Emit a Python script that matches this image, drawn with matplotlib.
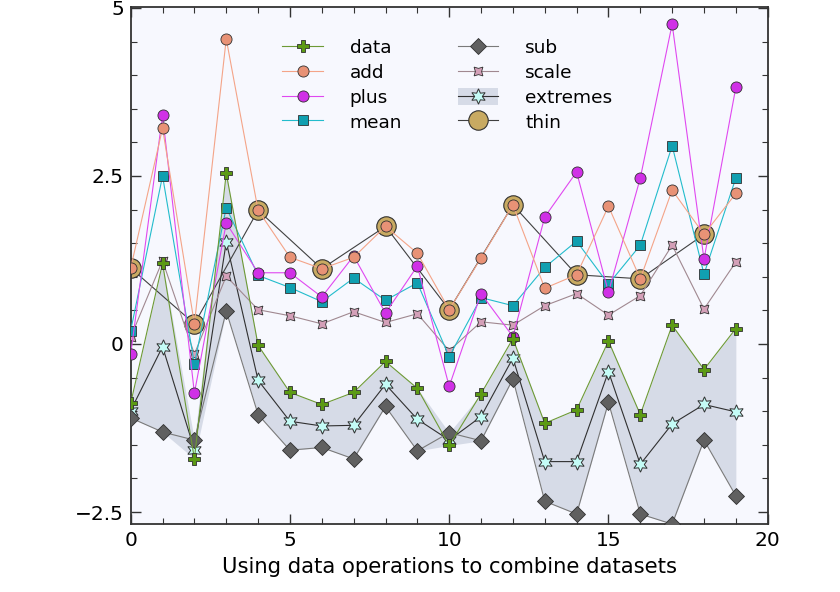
import numpy as np
import matplotlib
matplotlib.use("Agg")
import matplotlib.pyplot as plt
from matplotlib.ticker import MultipleLocator, FuncFormatter

x = list(range(20))
data = [-0.88, 1.20, -1.71, 2.54, -0.02, -0.72, -0.90, -0.72, -0.26, -0.66,
        -1.51, -0.74, 0.08, -1.18, -0.98, 0.045, -1.05, 0.28, -0.38, 0.23]
add = [1.13, 3.21, 0.30, 4.54, 1.99, 1.29, 1.12, 1.29, 1.75, 1.35,
       0.51, 1.28, 2.07, 0.83, 1.03, 2.05, 0.97, 2.29, 1.63, 2.24]
plus = [-0.15, 3.40, -0.73, 1.80, 1.06, 1.06, 0.70, 1.31, 0.46, 1.16,
        -0.63, 0.75, 0.11, 1.89, 2.56, 0.77, 2.47, 4.76, 1.26, 3.82]
mean = [0.20, 2.50, -0.30, 2.03, 1.02, 0.84, 0.63, 0.98, 0.65, 0.91,
        -0.19, 0.69, 0.57, 1.14, 1.53, 0.89, 1.47, 2.95, 1.04, 2.47]
sub = [-1.10, -1.31, -1.43, 0.49, -1.05, -1.58, -1.54, -1.71, -0.93, -1.59,
       -1.32, -1.44, -0.52, -2.34, -2.53, -0.87, -2.53, -2.68, -1.43, -2.26]
scale = [0.10, 1.24, -0.15, 1.01, 0.51, 0.42, 0.30, 0.48, 0.32, 0.45,
         -0.10, 0.33, 0.28, 0.57, 0.75, 0.43, 0.72, 1.47, 0.52, 1.22]
extremes = [-0.99, -0.04, -1.57, 1.52, -0.54, -1.15, -1.22, -1.21, -0.60, -1.12,
            -1.43, -1.08, -0.21, -1.75, -1.75, -0.41, -1.79, -1.19, -0.90, -1.01]
extremes_lo = [-1.10, -1.31, -1.71, 0.49, -1.05, -1.58, -1.54, -1.71, -0.93, -1.59,
               -1.51, -1.44, -0.52, -2.34, -2.53, -0.87, -2.53, -2.68, -1.43, -2.26]
extremes_hi = [-0.88, 1.20, -1.43, 2.54, -0.02, -0.72, -0.90, -0.72, -0.26, -0.66,
               -1.32, -0.74, 0.08, -1.18, -0.98, 0.045, -1.05, 0.28, -0.38, 0.23]
thin_x = [0, 2, 4, 6, 8, 10, 12, 14, 16, 18]
thin = [1.13, 0.30, 1.99, 1.12, 1.75, 0.51, 2.07, 1.03, 0.97, 1.63]

plt.rcParams['font.family'] = ['DejaVu Sans']
fig = plt.figure(figsize=(8.4, 5.92), dpi=100, facecolor='white')
ax = fig.add_axes([130.7 / 840, 1 - 523.7 / 592, (767.7 - 130.7) / 840, (523.7 - 7.3) / 592])
ax.set_facecolor('#f7f8fe')

edge = '#303030'
lw = 0.8

# draw in reverse order (later legend entries beneath)
l_thin, = ax.plot(thin_x, thin, '-', color='#404040', lw=lw, marker='o', ms=14,
                  mfc='#c8aa62', mec=edge, mew=0.8, zorder=2)
band = ax.fill_between(x, extremes_lo, extremes_hi, color='#d6dbe7', lw=0, zorder=1)
l_ext, = ax.plot(x, extremes, '-', color='#303030', lw=lw, marker=(6, 1, 0), ms=11,
                 mfc='#c4fcf6', mec=edge, mew=0.7, zorder=3)
l_scale, = ax.plot(x, scale, '-', color='#a08890', lw=lw, marker=(4, 1, 45), ms=9,
                   mfc='#d4a0b8', mec=edge, mew=0.6, zorder=4)
l_sub, = ax.plot(x, sub, '-', color='#7a7a7a', lw=lw, marker='D', ms=8,
                 mfc='#606060', mec=edge, mew=0.6, zorder=5)
l_mean, = ax.plot(x, mean, '-', color='#22bccc', lw=lw, marker='s', ms=7.5,
                  mfc='#109fb0', mec=edge, mew=0.6, zorder=6)
l_plus, = ax.plot(x, plus, '-', color='#e048f0', lw=lw, marker='o', ms=8,
                  mfc='#d030e6', mec=edge, mew=0.6, zorder=7)
l_add, = ax.plot(x, add, '-', color='#f4a488', lw=lw, marker='o', ms=8,
                 mfc='#e89276', mec=edge, mew=0.6, zorder=8)
l_data, = ax.plot(x, data, '-', color='#6d9a35', lw=lw, marker='P', ms=8.5,
                  mfc='#5c9a14', mec=edge, mew=0.6, zorder=9)

ax.set_xlim(0, 20)
ax.set_ylim(min(sub) + 0.006, 5.01)

ax.xaxis.set_major_locator(MultipleLocator(5))
ax.xaxis.set_minor_locator(MultipleLocator(1))
ax.yaxis.set_major_locator(MultipleLocator(2.5))
ax.yaxis.set_minor_locator(MultipleLocator(0.5))
fmt = FuncFormatter(lambda v, p: ('%g' % v).replace('-', '\u2212'))
ax.xaxis.set_major_formatter(fmt)
ax.yaxis.set_major_formatter(fmt)
ax.tick_params(which='both', direction='in', top=True, right=True, color='#333333')
ax.tick_params(which='major', length=7, width=1.0, labelsize=14.5, pad=5)
ax.tick_params(which='minor', length=4, width=0.8)
for s in ax.spines.values():
    s.set_linewidth(1.3)
    s.set_color('#333333')

ax.set_xlabel('Using data operations to combine datasets', fontsize=15.2, labelpad=5)

handles = [l_data, l_add, l_plus, l_mean, l_sub, l_scale, (band, l_ext), l_thin]
labels = ['data', 'add', 'plus', 'mean', 'sub', 'scale', 'extremes', 'thin']
ax.legend(handles, labels, ncol=2, frameon=False, loc='upper left',
          bbox_to_anchor=(0.212, 0.971), fontsize=13.3, handlelength=2.2,
          handletextpad=1.45, columnspacing=3.0, labelspacing=0.33,
          handleheight=1.0)

fig.savefig('out.png', dpi=100, facecolor='white')
